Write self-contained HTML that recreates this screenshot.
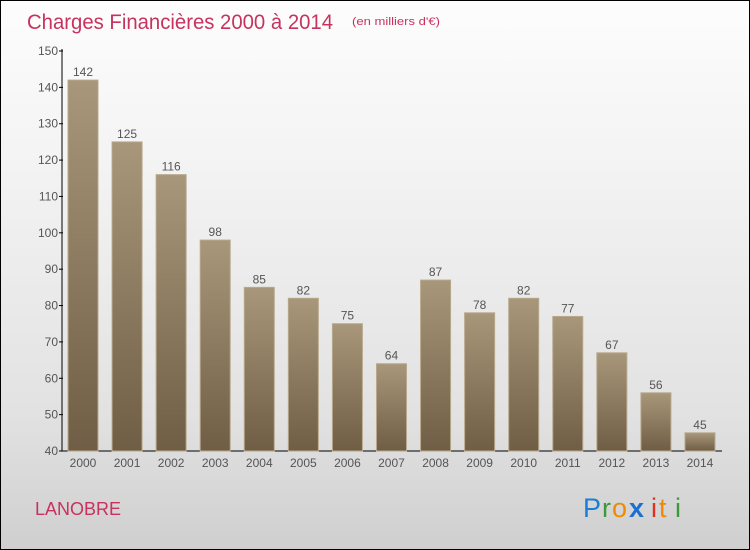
<!DOCTYPE html>
<html><head><meta charset="utf-8"><style>
body{margin:0}
#wrap{position:relative;width:748px;height:548px;border:1px solid #000;background:linear-gradient(#fdfdfd,#f3f3f3 30%,#e2e2e2 75%,#cfcfcf);font-family:"Liberation Sans",sans-serif;overflow:hidden}
</style></head><body>
<div id="wrap">
<svg id="svg" width="748" height="548" style="position:absolute;left:0;top:0">
<defs><linearGradient id="bg" x1="0" y1="0" x2="0" y2="1"><stop offset="0" stop-color="#a8977a"/><stop offset="1" stop-color="#6f5e45"/></linearGradient></defs>
<text x="26" y="28" font-size="21" fill="#c8325f" textLength="306" lengthAdjust="spacingAndGlyphs">Charges Financières 2000 à 2014</text>
<text x="351" y="24" font-size="11" fill="#c8325f" textLength="88" lengthAdjust="spacingAndGlyphs">(en milliers d'€)</text>
<text x="34" y="514" font-size="18" fill="#c8325f">LANOBRE</text>
<g font-size="27">
<text x="582" y="516" fill="#1a7fd4">P</text><text x="601" y="516" fill="#3a9a3a">r</text><text x="611" y="516" fill="#f08a00">o</text><text x="628" y="516" fill="#1a6fd0" font-weight="bold">x</text><text x="650" y="516" fill="#e0301e">i</text><text x="658" y="516" fill="#f08a00">t</text><text x="674" y="516" fill="#3a9a3a">i</text>
</g>
<g id="plot"></g>
</svg>
</div>
<script>
const categories=["2000","2001","2002","2003","2004","2005","2006","2007","2008","2009","2010","2011","2012","2013","2014"];
const values=[142,125,116,98,85,82,75,64,87,78,82,77,67,56,45];
const yTicks=[40,50,60,70,80,90,100,110,120,130,140,150];
const yMin=40,yMax=150;
const y=v=>450-(v-yMin)/(yMax-yMin)*400;
const x=i=>82+i*44.07;
const NS="http://www.w3.org/2000/svg";
const g=document.getElementById('plot');
function mk(t,a){const e=document.createElementNS(NS,t);for(const k in a)e.setAttribute(k,a[k]);g.appendChild(e);return e;}
let ax=mk('line',{x1:61,y1:48,x2:61,y2:450,stroke:'#000'});


let bx=mk('line',{x1:61,y1:450,x2:721,y2:450,stroke:'#000'});


yTicks.forEach(t=>{
 const tk=mk('line',{x1:58,y1:y(t),x2:62,y2:y(t),stroke:'#000'});
 
 
 const tl=mk('text',{x:57,y:y(t)+4,'font-size':12,'text-anchor':'end',fill:'#555'});
 tl.textContent=t;
 
 
});
categories.forEach((c,i)=>{
 const v=values[i];
 const b=mk('rect',{x:x(i)-15,y:y(v),width:30,height:450-y(v),fill:'url(#bg)',stroke:'#b8a88c','stroke-width':1});
 
 
 const vl=mk('text',{x:x(i),y:y(v)-4,'font-size':12,'text-anchor':'middle',fill:'#555'});
 vl.textContent=v;
 
 
 const xl=mk('text',{x:x(i),y:466,'font-size':12,'text-anchor':'middle',fill:'#555'});
 xl.textContent=c;
 
 
});
</script>
</body></html>
